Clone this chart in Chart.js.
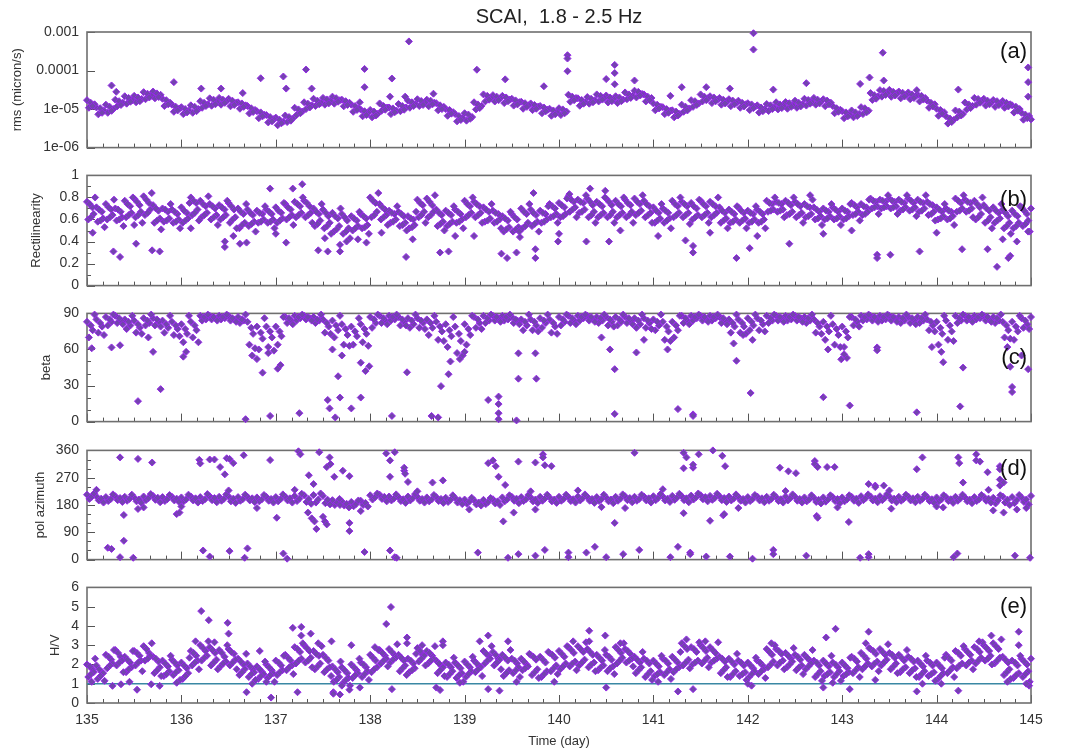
<!DOCTYPE html>
<html><head><meta charset="utf-8">
<script src="https://cdn.jsdelivr.net/npm/chart.js@4.4.1/dist/chart.umd.min.js"></script>
<style>
html,body{margin:0;padding:0;background:#fff;}
#wrap{position:relative;width:1074px;height:749px;overflow:hidden;background:#fff;}
canvas{position:absolute;left:0;}
</style></head><body><div id="wrap">
<canvas id="pa" width="1074" height="164" style="top:0px"></canvas>
<canvas id="pb" width="1074" height="143" style="top:159px"></canvas>
<canvas id="pc" width="1074" height="141" style="top:297px"></canvas>
<canvas id="pd" width="1074" height="142" style="top:434px"></canvas>
<canvas id="pe" width="1074" height="178" style="top:571px"></canvas>
</div>
<script>
// ---------------- DATA ----------------
const chartTitle = 'SCAI,  1.8 - 2.5 Hz';
const days = [135.0,135.1,135.2,135.3,135.4,135.5,135.6,135.7,135.8,135.9,
136.0,136.1,136.2,136.3,136.4,136.5,136.6,136.7,136.8,136.9,
137.0,137.1,137.2,137.3,137.4,137.5,137.6,137.7,137.8,137.9,
138.0,138.1,138.2,138.3,138.4,138.5,138.6,138.7,138.8,138.9,
139.0,139.1,139.2,139.3,139.4,139.5,139.6,139.7,139.8,139.9,
140.0,140.1,140.2,140.3,140.4,140.5,140.6,140.7,140.8,140.9,
141.0,141.1,141.2,141.3,141.4,141.5,141.6,141.7,141.8,141.9,
142.0,142.1,142.2,142.3,142.4,142.5,142.6,142.7,142.8,142.9,
143.0,143.1,143.2,143.3,143.4,143.5,143.6,143.7,143.8,143.9,
144.0,144.1,144.2,144.3,144.4,144.5,144.6,144.7,144.8,144.9,145.0];
const dayTicks = [135,136,137,138,139,140,141,142,143,144,145];
// each row of a band is its own series, sampled at days[i] + that row's time offset (day)
const rmsRowOffsets  = [0, 0.08, 0.02, 0.04, 0.06];
const recRowOffsets  = [0, 0.057, 0.071, 0.014, 0.029, 0.043, 0.086];
const betaRowOffsets = [0, 0.06, 0.02, 0.04, 0.08];
const azRowOffsets   = [0, 0.025, 0.05, 0.075];
const hvRowOffsets   = [0, 0.057, 0.071, 0.014, 0.029, 0.043, 0.086];

// (a) rms, in units of 1e-5 micron/s
const RMS_UNIT = 1e-5;
const rmsTickValues = [1e-6,1e-5,1e-4,1e-3];
const rmsTickText = ['1e-06','1e-05','0.0001','0.001'];
const rmsUpper = [1.7,1.1,1.3,1.75,2.15,2.2,2.75,2.85,1.85,1.3,
1.12,1.25,1.6,1.9,1.95,1.85,1.5,1.2,0.88,0.7,
0.6,0.68,1.08,1.5,1.85,1.95,2.1,1.75,1.3,0.97,
0.95,1.4,1.1,1.35,1.65,1.8,1.75,1.42,1.0,0.74,
0.78,1.5,2.4,2.3,2.2,1.85,1.55,1.4,1.2,1.02,
1.05,2.35,1.9,2.05,2.4,2.25,2.15,2.7,3.0,2.4,
1.4,1.12,0.93,1.3,1.7,2.4,2.15,1.95,1.8,1.65,
1.42,1.25,1.35,1.5,1.52,1.65,1.85,1.95,1.8,1.2,
0.88,0.92,1.12,2.6,3.1,3.15,2.85,2.7,2.35,1.65,
1.02,0.65,0.92,1.48,1.95,1.85,1.72,1.62,1.25,0.8,0.54];
const rmsMid = [1.33,0.91,1.0,1.46,1.70,1.83,2.21,2.34,1.46,1.04,
0.91,1.0,1.33,1.51,1.6,1.46,1.25,0.95,0.71,0.55,
0.47,0.57,0.86,1.25,1.46,1.6,1.7,1.46,1.04,0.80,
0.75,1.1,0.91,1.1,1.33,1.46,1.46,1.14,0.83,0.59,
0.62,1.21,1.94,1.94,1.76,1.51,1.25,1.16,0.96,0.83,
0.86,1.94,1.51,1.7,1.94,1.83,1.76,2.21,2.47,1.94,
1.14,0.91,0.75,1.04,1.4,1.94,1.76,1.6,1.46,1.33,
1.16,1.0,1.1,1.21,1.25,1.33,1.51,1.6,1.46,0.96,
0.71,0.75,0.91,2.13,2.57,2.57,2.34,2.21,1.94,1.33,
0.83,0.52,0.75,1.21,1.6,1.51,1.4,1.33,1.0,0.66,0.43];
const rmsLower = [1.08,0.73,0.8,1.18,1.38,1.5,1.8,1.9,1.2,0.85,
0.74,0.8,1.08,1.22,1.3,1.18,1.02,0.77,0.58,0.45,
0.38,0.46,0.7,1.0,1.2,1.3,1.38,1.18,0.85,0.65,
0.61,0.9,0.74,0.88,1.08,1.2,1.18,0.93,0.67,0.48,
0.5,0.98,1.58,1.57,1.43,1.23,1.02,0.94,0.78,0.67,
0.7,1.55,1.22,1.38,1.58,1.48,1.43,1.8,2.0,1.58,
0.93,0.74,0.61,0.85,1.14,1.58,1.43,1.3,1.19,1.08,
0.94,0.81,0.89,0.98,1.02,1.08,1.23,1.3,1.19,0.78,
0.58,0.61,0.74,1.73,2.1,2.08,1.9,1.8,1.58,1.08,
0.67,0.42,0.61,0.98,1.3,1.23,1.14,1.08,0.81,0.53,0.35];
const rmsRowB = [1.45,1.05,1.15,1.6,1.95,2.0,2.5,2.55,1.7,1.15,
1.0,1.15,1.45,1.75,1.75,1.65,1.4,1.05,0.82,0.62,
0.53,0.62,0.98,1.38,1.65,1.78,1.92,1.6,1.2,0.88,
0.86,1.2,1.04,1.2,1.5,1.62,1.65,1.25,0.95,0.66,
0.72,1.32,2.2,2.1,2.0,1.68,1.42,1.28,1.1,0.92,
0.98,2.1,1.72,1.85,2.2,2.0,2.0,2.4,2.8,2.1,
1.3,1.0,0.86,1.15,1.6,2.1,2.0,1.75,1.66,1.45,
1.32,1.1,1.25,1.32,1.42,1.45,1.72,1.75,1.66,1.05,
0.82,0.82,1.05,2.3,2.95,2.8,2.65,2.4,2.2,1.45,
0.95,0.57,0.86,1.32,1.82,1.65,1.6,1.45,1.15,0.72,0.49];
const rmsRowC = [1.2,0.8,0.9,1.28,1.55,1.6,2.0,2.05,1.33,0.92,
0.82,0.88,1.2,1.33,1.45,1.28,1.14,0.84,0.65,0.48,
0.43,0.5,0.78,1.1,1.33,1.4,1.55,1.28,0.95,0.7,
0.68,0.96,0.83,0.96,1.2,1.28,1.33,1.0,0.76,0.52,
0.56,1.06,1.75,1.7,1.6,1.32,1.14,1.02,0.88,0.73,
0.78,1.7,1.38,1.5,1.76,1.6,1.6,1.95,2.25,1.7,
1.04,0.8,0.68,0.92,1.28,1.7,1.6,1.4,1.33,1.17,
1.06,0.88,1.0,1.06,1.14,1.17,1.38,1.4,1.33,0.85,
0.65,0.66,0.83,1.86,2.33,2.25,2.12,1.94,1.76,1.17,
0.76,0.46,0.68,1.06,1.46,1.33,1.27,1.17,0.91,0.58,0.39];
const rmsOutliers = [[138.41,57],[137.32,10.6],[137.94,11],[139.13,10.5],[137.08,7],[136.84,6.3],[135.92,5],[138.23,6.2],[137.94,3.7],[139.43,5.9],[135.26,4.1],[135.31,2.8],[136.21,3.4],[136.42,3.4],[137.11,3.4],[137.38,3.4],[138.21,2.1],[138.67,2.5],[137.89,1.5],[138.37,2.1],[136.65,2.6],
[142.06,93],[142.06,35],[140.09,25],[140.09,20.5],[140.09,9.6],[143.43,29],[140.59,14],[140.59,8.6],[140.59,4.4],[140.5,6],[140.8,5.5],[144.97,12],[144.97,5],[144.97,2.1],[143.29,6.6],[143.19,4.5],[143.44,5.5],[142.62,4.7],[142.27,3.2],[139.84,3.9],[141.3,3.7],[141.18,2.2],[144.23,3.2],[143.79,3.1],[141.81,3.4],[141.56,3.7]];

// (b) Rectilinearity
const recRow1 = [.76,.71,.74,.70,.77,.79,.81,.73,.70,.69,
.71,.80,.77,.74,.73,.75,.70,.69,.68,.69,
.71,.74,.76,.77,.70,.69,.66,.65,.63,.65,
.80,.74,.68,.67,.63,.78,.79,.69,.68,.69,
.77,.76,.71,.68,.63,.65,.70,.69,.68,.74,
.75,.81,.78,.79,.76,.79,.77,.78,.79,.77,
.71,.70,.77,.76,.75,.77,.76,.71,.69,.71,
.68,.69,.77,.76,.77,.76,.74,.71,.70,.71,
.70,.75,.74,.79,.78,.79,.78,.79,.78,.76,
.71,.70,.79,.78,.77,.73,.71,.69,.68,.71,.70];
const recRow2 = [.71,.67,.69,.67,.72,.73,.75,.68,.67,.65,
.66,.75,.72,.70,.69,.69,.65,.64,.65,.65,
.66,.69,.72,.72,.65,.63,.61,.59,.59,.61,
.75,.69,.65,.63,.60,.73,.73,.64,.64,.65,
.72,.72,.67,.65,.59,.60,.65,.64,.65,.70,
.71,.76,.75,.73,.72,.73,.72,.73,.74,.72,
.66,.66,.72,.72,.70,.72,.72,.66,.65,.66,
.65,.65,.74,.74,.73,.72,.71,.67,.67,.67,
.67,.71,.71,.76,.76,.76,.75,.75,.75,.73,
.67,.67,.75,.75,.71,.68,.66,.63,.63,.65,.66];
const recRow3 = [.65,.61,.64,.62,.66,.67,.69,.61,.61,.60,
.61,.69,.66,.64,.64,.62,.57,.58,.60,.60,
.61,.64,.66,.66,.59,.57,.54,.52,.54,.55,
.67,.64,.60,.57,.55,.67,.67,.58,.58,.60,
.66,.66,.61,.60,.53,.53,.57,.58,.60,.65,
.65,.71,.69,.67,.66,.67,.66,.67,.68,.66,
.61,.61,.66,.66,.64,.66,.66,.61,.60,.61,
.60,.60,.69,.69,.67,.66,.65,.63,.63,.63,
.63,.67,.67,.72,.72,.72,.71,.71,.70,.67,
.63,.63,.70,.70,.65,.62,.61,.57,.57,.59,.61];
const recRow4 = [.60,.58,.60,.59,.62,.62,.64,.57,.58,.57,
.57,.64,.62,.60,.60,.57,.52,.54,.57,.57,
.57,.60,.62,.62,.54,.52,.49,.47,.50,.52,
.62,.60,.57,.54,.52,.62,.62,.54,.54,.57,
.62,.62,.58,.57,.49,.49,.52,.54,.57,.62,
.62,.67,.66,.62,.62,.62,.62,.62,.64,.62,
.57,.57,.62,.62,.60,.62,.62,.57,.57,.57,
.57,.57,.67,.67,.64,.62,.62,.60,.60,.60,
.60,.64,.64,.70,.70,.70,.68,.68,.67,.64,
.60,.60,.67,.67,.60,.57,.57,.52,.52,.54,.57];
const recRow5 = [.74,.69,.71,.69,.74,.76,.78,.70,.69,.67,
.68,.77,.74,.72,.71,.72,.67,.66,.66,.67,
.68,.71,.74,.75,.67,.66,.63,.62,.61,.63,
.77,.71,.66,.65,.61,.75,.76,.66,.66,.67,
.74,.74,.69,.66,.61,.62,.67,.66,.66,.72,
.73,.78,.76,.76,.74,.76,.74,.75,.76,.74,
.68,.68,.74,.74,.72,.74,.74,.68,.67,.68,
.66,.67,.75,.75,.75,.74,.72,.69,.68,.69,
.68,.73,.72,.77,.77,.77,.76,.77,.76,.74,
.69,.68,.77,.76,.74,.70,.68,.66,.65,.68,.68];
const recRow6 = [.62,.59,.62,.60,.64,.64,.66,.59,.59,.58,
.59,.66,.64,.62,.62,.60,.55,.56,.58,.58,
.59,.62,.64,.64,.56,.54,.51,.49,.52,.53,
.64,.62,.58,.55,.53,.64,.64,.56,.56,.58,
.64,.64,.59,.58,.51,.51,.54,.56,.58,.63,
.63,.69,.67,.64,.64,.64,.64,.64,.66,.64,
.59,.59,.64,.64,.62,.64,.64,.59,.58,.59,
.58,.58,.68,.68,.65,.64,.63,.61,.61,.61,
.61,.65,.65,.71,.71,.71,.69,.69,.68,.65,
.61,.61,.68,.68,.62,.59,.59,.54,.54,.56,.59];
const recRow7 = [.80,.53,.78,.54,.80,.57,.84,.51,.74,.52,
.75,.59,.81,.55,.77,.52,.74,.49,.72,.52,
.75,.55,.80,.57,.74,.47,.70,.43,.67,.47,
.84,.55,.72,.50,.67,.57,.82,.50,.72,.52,
.80,.57,.74,.52,.67,.44,.74,.49,.72,.57,
.79,.62,.82,.57,.80,.57,.80,.57,.82,.57,
.74,.52,.80,.56,.78,.57,.80,.52,.72,.52,
.72,.52,.80,.62,.80,.57,.78,.55,.74,.55,
.74,.59,.78,.65,.82,.65,.82,.63,.82,.59,
.74,.55,.82,.62,.80,.52,.74,.47,.72,.49,.74];
const recOutliers = [[135.28,0.31],[135.35,0.26],[135.52,0.38],[135.69,0.32],[135.77,0.31],[136.46,0.35],[136.46,0.40],[136.62,0.38],[136.69,0.39],[136.94,0.88],[137.18,0.88],[137.28,0.92],[137.11,0.39],[137.45,0.32],[137.55,0.31],[137.68,0.31],[137.68,0.37],[137.87,0.42],[137.96,0.39],[138.38,0.26],[138.74,0.30],[138.83,0.31],[138.9,0.45],[139.39,0.29],[139.45,0.25],[139.55,0.30],[139.73,0.84],[139.58,0.49],
[139.75,0.33],[139.75,0.25],[139.99,0.40],[140.29,0.40],[140.53,0.40],[141.34,0.41],[141.42,0.36],[141.42,0.30],[141.88,0.25],[142.02,0.34],[142.44,0.38],[143.37,0.28],[143.37,0.25],[143.51,0.28],[143.82,0.31],[144.27,0.33],[144.54,0.33],[144.64,0.17],[144.78,0.27],[144.76,0.25],[144.97,0.49],[140.33,0.88],[140.49,0.86],[140.11,0.83],[142.66,0.82],
[135.06,0.48],[135.5,0.55],[136.1,0.52],[136.55,0.45],[137.0,0.47],[137.52,0.43],[137.75,0.40],[138.12,0.48],[138.45,0.42],[139.1,0.45],[140.0,0.47],[140.65,0.50],[141.05,0.45],[141.6,0.48],[142.1,0.45],[142.8,0.47],[143.1,0.50],[144.0,0.48],[144.7,0.42],[144.85,0.40]];

// (c) beta
const betaRow1 = [83,85,87,88,85,84,86,86,84,83,
81,83,88,88,88,88,87,83,79,79,
79,87,88,88,87,85,84,81,79,81,
87,88,88,87,86,86,85,83,81,79,
81,87,88,88,88,87,85,85,86,85,
87,88,88,88,87,87,87,87,86,86,
85,83,83,88,88,88,88,87,85,85,
86,86,88,88,88,88,87,85,83,81,
79,87,88,88,88,88,87,87,87,85,
83,84,88,88,88,88,87,83,83,86,87];
const betaRow2 = [76,79,83,84,80,78,82,83,78,77,
73,76,85,86,86,85,84,73,69,70,
71,84,86,86,84,79,76,72,71,73,
82,84,85,83,81,82,78,75,71,67,
72,82,84,86,85,84,80,80,82,79,
83,84,86,85,84,83,83,84,81,82,
80,75,76,84,86,85,86,84,79,79,
80,81,84,86,85,86,84,79,75,72,
70,83,85,86,85,86,84,84,84,80,
73,75,84,86,86,85,84,76,75,81,83];
const betaRow3 = [70,74,80,82,77,74,80,80,74,72,
66,70,84,85,85,84,82,64,60,62,
64,82,84,85,82,74,70,64,64,66,
78,82,84,80,78,78,72,68,62,57,
64,78,82,84,84,82,76,76,78,74,
80,82,84,84,82,80,80,82,78,78,
76,68,70,82,84,84,84,82,74,74,
76,76,82,84,84,84,82,74,68,64,
62,80,84,84,84,84,82,82,82,76,
64,68,82,84,85,84,82,70,68,78,80];
const betaRow4 = [80,82,85,86,83,81,84,85,81,80,
77,80,87,87,87,86,85,78,74,75,
75,86,87,87,85,82,80,77,75,77,
85,86,87,85,84,84,82,79,76,73,
77,85,86,87,87,85,83,83,84,82,
85,86,87,87,86,85,85,86,84,84,
83,79,80,86,87,87,87,86,82,82,
83,84,86,87,87,87,86,82,79,77,
75,85,87,87,87,87,86,86,86,83,
78,80,86,87,87,87,86,80,79,84,85];
const betaRow5 = [89,72,89,81,88,73,89,79,88,71,
88,66,89,84,89,83,89,61,86,59,
87,81,89,84,89,73,88,63,86,63,
89,81,89,80,89,77,88,67,87,55,
88,77,89,83,89,81,89,75,89,73,
89,81,89,83,89,79,89,81,89,77,
89,67,88,81,89,83,89,81,89,73,
89,75,89,83,89,83,89,73,88,62,
87,79,89,83,89,83,89,81,89,75,
88,67,89,83,89,83,89,69,88,77,89];
const betaOutliers = [[135.54,17],[135.78,27],[135.26,61.7],[135.35,63.5],[135.7,58],[136.02,54],[136.68,2],[136.86,40.7],[136.94,4.7],[137.02,44],[137.05,47],[137.25,7],[137.55,18],[137.57,11],[137.63,3.5],[137.66,37.7],[137.68,20],[137.8,11],[137.9,20],[137.9,49],[137.95,42],[137.99,46],[138.23,4.7],[138.39,41],[138.65,4.7],[138.72,3.5],[138.75,29.5],[138.83,39.4],[139.25,18],[139.36,14.6],[139.36,20.8],[139.36,7],[139.36,2],[139.55,1],[139.57,35.7],[139.57,56.8],
[139.75,56.8],[139.76,35.7],[140.59,43.6],[140.59,6.4],[140.54,60],[140.82,57.5],[141.26,10.4],[141.42,6],[141.42,4.7],[141.88,50.6],[142.03,23.8],[142.8,20.3],[143.08,13.4],[143.37,61.7],[143.37,59.3],[143.79,7.7],[144.07,49.4],[144.25,12.6],[144.28,44.9],[144.8,28.8],[144.8,24.6],[144.97,43.6],[144.78,45.6],[142.99,51.8],[143.05,53],
[135.05,61],[135.65,70],[136.05,58],[136.75,55],[136.8,52],[136.92,57],[137.6,60],[137.7,55],[138.85,50],[138.95,52],[139.0,58],[140.45,70],[141.15,60],[141.85,65],[142.05,68],[142.85,60],[143.02,56],[143.95,62],[144.05,58],[144.75,62],[144.9,55],[140.9,68],[141.95,72]];

// (d) polarization azimuth
const azRow1 = [214,208,206,209,207,205,208,210,206,207,
205,208,206,209,207,208,206,207,205,207,
206,208,210,212,213,210,196,192,190,194,
212,214,208,206,208,207,205,206,204,203,
198,196,197,199,205,207,206,205,207,205,
207,206,208,207,206,205,207,209,207,208,
209,208,210,209,211,212,210,209,208,207,
206,208,207,206,208,207,205,204,205,206,
205,207,209,208,209,208,207,208,207,206,
205,206,207,205,206,207,204,208,206,205,210];
const azRow2 = [200,195,193,196,194,192,196,197,193,195,
192,195,193,196,194,192,194,195,192,194,
192,195,193,190,188,186,180,178,176,180,
198,200,195,193,195,194,192,193,190,188,
184,182,183,185,192,194,193,192,194,192,
194,193,195,194,193,192,194,196,194,195,
196,195,197,196,198,199,197,196,195,194,
193,195,194,193,195,194,192,190,191,193,
192,194,196,195,196,195,194,195,194,193,
192,193,194,192,193,194,185,188,186,190,196];
const azRow3 = [207,201,199,203,200,198,202,204,199,201,
198,202,199,203,200,201,199,202,198,200,
199,202,201,200,198,197,188,184,183,187,
205,207,201,199,202,200,198,200,197,196,
191,188,190,192,198,201,199,198,201,198,
200,199,202,200,199,198,201,203,200,202,
203,201,204,202,205,206,203,203,201,200,
199,202,200,199,202,200,198,197,198,200,
198,201,203,201,203,201,200,202,200,199,
198,199,201,198,199,201,195,197,196,198,203];
const azRow4 = [218,188,215,190,214,187,216,189,213,190,
214,188,216,189,215,187,214,190,213,188,
215,188,217,184,218,182,200,172,195,175,
218,192,215,187,216,188,213,187,212,183,
204,178,203,180,212,186,213,187,214,187,
214,188,215,187,214,186,215,189,214,188,
216,190,217,189,218,192,217,190,215,188,
213,189,214,188,215,188,212,185,212,186,
212,187,215,189,216,189,214,189,214,187,
212,187,214,186,213,188,212,180,213,182,216];
const azOutliers = [[135.35,337],[135.54,332],[135.69,320],[136.19,329],[136.2,317],[136.3,330],[136.35,330],[136.41,305],[136.48,334],[136.51,332],[136.46,281],[136.55,318],[136.66,344],[136.94,328],[137.24,357],[137.26,347],[137.35,278],[137.4,249],[137.46,354],[137.54,305],[137.57,337],[137.58,315],[137.62,273],[137.71,293],[137.78,275],[138.17,350],[138.21,327],[138.26,354],[138.21,273],[138.36,293],[138.36,303],[138.37,283],[138.4,256],[138.66,254],[138.77,261],[139.25,318],[139.3,327],[139.33,308],[139.36,273],[139.57,323],[139.43,246],
[135.22,39],[135.26,35],[135.39,62],[135.39,147],[135.35,8],[135.49,6],[135.54,167],[135.95,150],[135.98,155],[136.23,30],[136.3,10],[136.51,28],[136.67,6],[136.7,37],[137.01,138],[137.08,20],[137.12,3],[137.34,155],[137.38,136],[137.41,126],[137.43,101],[137.5,141],[137.52,126],[137.54,116],[137.68,180],[137.78,94],[137.78,121],[137.94,25],[138.21,30],[138.26,8],[138.28,6],[139.14,23],[139.46,6],[139.57,18],[139.41,126],[139.52,155],
[139.75,320],[139.83,347],[139.83,337],[139.85,311],[139.92,308],[140.8,352],[141.32,352],[141.35,337],[141.32,301],[141.42,303],[141.42,313],[141.48,347],[141.63,360],[141.73,342],[141.76,308],[142.34,303],[142.43,291],[142.51,285],[142.71,325],[142.71,315],[142.74,305],[142.84,305],[142.92,305],[143.28,249],[143.35,244],[143.35,239],[143.44,244],[143.79,298],[143.85,337],[144.23,337],[144.24,318],[144.28,254],[144.42,347],[144.42,327],[144.46,323],[144.54,288],[144.67,308],[144.67,298],[144.67,264],[144.67,244],[144.71,254],
[139.75,165],[140.45,173],[140.59,121],[141.32,153],[141.6,128],[141.74,146],[141.75,150],[142.73,144],[142.74,138],[143.07,124],[144.71,155],[144.07,172],[143.52,168],
[139.75,13],[139.85,32],[140.1,23],[140.1,8],[140.29,23],[140.38,42],[140.5,8],[140.68,18],[140.85,32],[141.18,8],[141.26,42],[141.39,23],[141.39,18],[141.56,10],[142.05,3],[142.27,32],[142.27,18],[142.62,13],[143.28,8],[143.28,18],[143.19,6],[144.18,8],[144.83,13],[144.99,6],[141.81,10],[144.22,20],
[135.1,230],[135.6,172],[136.0,175],[136.5,228],[136.8,170],[137.2,230],[137.9,160],[138.5,225],[139.05,165],[139.7,225],[140.2,228],[140.7,170],[141.1,232],[141.9,170],[142.4,226],[142.95,172],[143.5,228],[144.0,175],[144.55,230],[144.85,165],[144.95,170],[144.6,162]];

// (e) H/V
const hvRefLevel = 1;
const hvRow1 = [2.0,1.95,2.5,2.75,2.4,2.7,2.95,2.4,2.2,2.25,
2.1,2.7,3.0,2.9,2.75,2.8,2.3,2.05,1.9,2.0,
2.2,2.5,2.9,3.0,2.7,2.5,1.9,1.85,2.0,2.1,
2.5,2.75,2.8,2.5,2.3,2.85,2.7,2.2,2.1,2.1,
2.15,2.2,2.7,2.65,2.5,2.3,2.3,2.5,2.4,2.6,
2.7,2.9,2.95,2.8,2.5,2.5,2.9,2.8,2.4,2.3,
2.2,2.3,2.4,3.1,2.9,3.0,2.9,2.4,2.3,2.2,
2.1,2.2,2.8,2.8,2.6,2.5,2.5,2.2,2.2,2.1,
2.1,2.4,2.6,2.8,2.8,2.6,2.5,2.4,2.2,2.2,
2.1,2.5,2.7,2.8,2.9,3.0,3.1,2.4,2.2,2.3,2.3];
const hvRow2 = [1.75,1.6,2.25,2.4,2.1,2.45,2.6,2.15,1.9,1.95,
1.8,2.45,2.7,2.6,2.4,2.55,2.0,1.75,1.6,1.7,
1.95,2.2,2.65,2.7,2.45,2.2,1.6,1.55,1.7,1.85,
2.2,2.45,2.5,2.2,2.05,2.5,2.45,1.9,1.85,1.8,
1.85,1.9,2.45,2.3,2.2,2.05,2.0,2.25,2.1,2.35,
2.4,2.6,2.65,2.5,2.2,2.25,2.6,2.55,2.1,2.05,
1.9,2.05,2.1,2.8,2.65,2.7,2.6,2.15,2.0,1.95,
1.8,1.95,2.5,2.55,2.3,2.25,2.2,1.95,1.9,1.85,
1.8,2.15,2.3,2.55,2.5,2.35,2.2,2.15,1.9,1.95,
1.8,2.2,2.45,2.5,2.65,2.7,2.8,2.1,1.95,2.0,2.05];
const hvRow3 = [1.6,1.55,2.05,2.2,1.85,2.2,2.45,1.85,1.65,1.7,
1.55,2.2,2.45,2.25,2.15,2.25,1.75,1.6,1.5,1.55,
1.7,1.95,2.3,2.35,2.05,1.85,1.35,1.3,1.55,1.65,
1.85,2.3,2.35,1.95,1.8,2.45,2.3,1.85,1.65,1.55,
1.65,1.85,2.3,2.25,1.7,1.85,1.9,1.75,1.65,1.95,
2.05,2.15,2.25,2.1,1.95,1.9,2.35,2.3,1.85,1.65,
1.6,1.75,1.85,2.25,2.2,2.35,2.3,1.85,1.65,1.6,
1.65,1.75,2.15,2.2,2.15,1.95,2.05,1.65,1.6,1.65,
1.6,1.85,2.05,2.15,2.25,2.05,1.85,1.8,1.65,1.6,
1.55,1.85,2.05,2.2,2.35,2.45,2.35,1.75,1.55,1.65,1.85];
const hvRow4 = [1.35,1.25,1.8,1.95,1.6,1.95,2.2,1.55,1.4,1.45,
1.25,1.95,2.2,1.95,1.9,1.95,1.45,1.35,1.25,1.3,
1.45,1.7,2.05,2.1,1.75,1.6,1.1,1.05,1.3,1.35,
1.6,2.05,2.1,1.65,1.6,2.15,2.05,1.55,1.35,1.3,
1.35,1.6,2.05,1.95,1.4,1.55,1.7,1.45,1.35,1.65,
1.75,1.9,1.95,1.85,1.7,1.65,2.05,2.1,1.55,1.35,
1.4,1.45,1.6,1.95,2.0,2.05,2.1,1.55,1.35,1.4,
1.35,1.5,1.85,1.95,1.85,1.7,1.75,1.35,1.4,1.35,
1.4,1.55,1.75,1.9,1.95,1.75,1.6,1.55,1.35,1.4,
1.25,1.55,1.8,1.95,2.05,2.2,2.05,1.45,1.3,1.35,1.55];
const hvRow5 = [1.9,1.75,2.4,2.6,2.25,2.6,2.8,2.3,2.05,2.1,
1.95,2.6,2.85,2.75,2.6,2.65,2.15,1.9,1.75,1.85,
2.1,2.35,2.8,2.85,2.55,2.35,1.75,1.7,1.85,2.0,
2.35,2.6,2.65,2.35,2.2,2.7,2.6,2.05,2.0,1.95,
2.0,2.05,2.55,2.5,2.35,2.2,2.15,2.4,2.25,2.5,
2.55,2.75,2.8,2.65,2.35,2.4,2.75,2.7,2.25,2.2,
2.05,2.2,2.25,2.95,2.8,2.85,2.75,2.3,2.15,2.1,
1.95,2.1,2.65,2.7,2.45,2.4,2.35,2.1,2.05,2.0,
1.95,2.3,2.45,2.7,2.65,2.5,2.35,2.3,2.05,2.1,
1.95,2.35,2.6,2.65,2.8,2.85,2.95,2.25,2.1,2.15,2.2];
const hvRow6 = [1.5,1.4,1.95,2.1,1.75,2.1,2.3,1.7,1.5,1.6,
1.4,2.1,2.35,2.1,2.05,2.1,1.6,1.5,1.4,1.45,
1.6,1.85,2.2,2.2,1.9,1.75,1.2,1.2,1.45,1.5,
1.75,2.2,2.25,1.8,1.7,2.3,2.2,1.7,1.5,1.45,
1.5,1.75,2.2,2.1,1.55,1.7,1.8,1.6,1.5,1.8,
1.9,2.05,2.1,2.0,1.85,1.8,2.2,2.2,1.7,1.5,
1.5,1.6,1.75,2.1,2.1,2.2,2.2,1.7,1.5,1.5,
1.5,1.65,2.0,2.1,2.0,1.85,1.9,1.5,1.5,1.5,
1.5,1.7,1.9,2.05,2.1,1.9,1.75,1.7,1.5,1.5,
1.4,1.7,1.95,2.1,2.2,2.3,2.2,1.6,1.45,1.5,1.7];
const hvRow7 = [2.3,1.15,2.75,1.6,2.7,1.65,3.1,1.4,2.45,1.2,
2.35,1.75,3.2,1.75,3.0,1.75,2.55,1.2,2.15,1.1,
2.45,1.5,3.1,1.85,2.95,1.4,2.15,0.9,2.3,1.2,
2.75,1.9,3.05,1.45,2.55,1.95,2.95,1.4,2.35,1.1,
2.4,1.4,2.95,1.75,2.75,1.35,2.55,1.3,2.65,1.5,
2.95,1.7,3.15,1.65,2.75,1.5,3.1,1.9,2.65,1.2,
2.45,1.25,2.65,1.8,3.15,1.85,3.15,1.35,2.55,1.2,
2.35,1.3,3.0,1.75,2.85,1.5,2.75,1.15,2.45,1.15,
2.35,1.35,2.85,1.65,3.05,1.55,2.75,1.35,2.45,1.15,
2.35,1.35,2.95,1.75,3.15,2.0,3.3,1.25,2.45,1.1,2.5];
const hvOutliers = [[136.21,4.77],[136.29,4.3],[136.49,4.16],[136.5,3.6],[137.18,3.9],[137.27,3.95],[137.37,3.6],[137.27,3.5],[138.17,4.1],[138.22,4.98],[138.39,3.4],[138.39,3.1],[137.59,3.2],[137.8,3.0],[138.77,3.2],[138.77,3.0],[139.25,3.5],[139.16,3.2],[139.46,3.2],[136.83,2.7],[137.23,0.56],[136.95,0.28],[136.69,0.56],[137.61,0.56],[137.61,0.48],[137.68,0.44],[137.78,0.69],[137.89,0.8],[138.23,0.72],[138.7,0.8],[138.74,0.67],[139.25,0.72],[139.37,0.64],[135.27,0.89],[135.53,0.69],[135.68,0.97],[135.77,0.89],[135.36,0.97],
[140.32,3.75],[140.49,3.5],[140.32,3.2],[142.83,3.4],[142.93,3.85],[143.28,3.7],[144.87,3.7],[144.87,3.0],[144.58,3.5],[141.42,0.72],[141.26,0.6],[143.79,0.6],[143.08,0.72],[144.23,0.64],[142.04,0.9],[142.8,0.8],[140.5,0.8],[144.98,0.9],[143.35,1.2],
[135.05,1.1],[135.45,1.1],[135.95,1.05],[136.15,3.2],[136.35,3.15],[136.75,1.0],[136.9,1.1],[137.45,3.1],[137.7,0.9],[138.05,2.9],[138.55,3.0],[138.95,1.05],[139.55,1.1],[139.95,1.1],[140.15,3.2],[140.65,3.1],[141.05,1.1],[141.35,3.3],[141.55,3.2],[142.0,1.0],[142.25,3.1],[142.9,1.05],[143.25,3.1],[143.85,1.0],[144.05,1.0],[144.45,3.2],[144.75,1.1],[144.95,1.0]];

// ---------------- CHARTS ----------------
Chart.defaults.font.family = "'Liberation Sans', Arial, Helvetica, sans-serif";
Chart.defaults.color = '#333';
Chart.defaults.animation = false;

const MARKER = {pointStyle:'rectRot', pointRadius:3.5, pointHoverRadius:3.5,
  backgroundColor:'#7344ae', borderColor:'#9626ea', borderWidth:1, showLine:false, clip:false};

const lastDay = days[days.length - 1];
function rows(rowList, offsets, scale) {
  const out = [];
  rowList.forEach((r, k) => r.forEach((v, i) => {
    const t = days[i] + offsets[k];
    if (t <= lastDay + 1e-9) out.push({x: t, y: v * scale});
  }));
  return out;
}
function pairs(list, scale) { return list.map(p => ({x: p[0], y: p[1] * scale})); }

const minorDayStep = 1 / 6;
const framePlugin = {
  id: 'frame',
  beforeDatasetsDraw(chart, args, o) {
    const {ctx, chartArea: a, scales: {x, y}} = chart;
    ctx.save();
    ctx.strokeStyle = '#555'; ctx.lineWidth = 1;
    ctx.beginPath();
    for (let k = 0; k <= 60; k++) {
      const v = 135 + k * minorDayStep;
      const px = Math.round(x.getPixelForValue(v)) + 0.5;
      const len = (k % 6 === 0) ? 8 : 4;
      ctx.moveTo(px, a.bottom); ctx.lineTo(px, a.bottom - len);
    }
    y.ticks.forEach(t => {
      const py = Math.round(y.getPixelForValue(t.value)) + 0.5;
      ctx.moveTo(a.left, py); ctx.lineTo(a.left + 8, py);
    });
    if (o.yMinor) {
      for (let v = y.min; v <= y.max + 1e-9; v += o.yMinor) {
        const py = Math.round(y.getPixelForValue(v)) + 0.5;
        ctx.moveTo(a.left, py); ctx.lineTo(a.left + 4, py);
      }
    }
    ctx.stroke();
    ctx.strokeStyle = '#6f6f6f'; ctx.lineWidth = 1.6;
    ctx.strokeRect(a.left, a.top, a.right - a.left, a.bottom - a.top);
    ctx.restore();
  },
  afterDatasetsDraw(chart, args, o) {
    const {ctx, chartArea: a} = chart;
    ctx.save();
    ctx.font = "22px 'Liberation Sans', Arial, sans-serif";
    ctx.fillStyle = '#111'; ctx.textAlign = 'right'; ctx.textBaseline = 'middle';
    ctx.fillText(o.label, a.right - 4, a.top + o.labelDy);
    ctx.restore();
  }
};

function yAxis(o) {
  const ax = {
    type: o.type || 'linear', min: o.min, max: o.max, position: 'left',
    afterFit: s => { s.width = 87; },
    grid: {display: false, drawTicks: false}, border: {display: false},
    ticks: {padding: 8, font: {size: 14}, color: '#333', autoSkip: false,
            callback: v => String(Math.round(v * 10) / 10)},
    title: {display: true, text: o.title, font: {size: 13}, color: '#333', padding: {top: o.titleX - 8, bottom: 0}}
  };
  if (o.step) ax.ticks.stepSize = o.step;
  if (o.tickValues) {
    ax.afterBuildTicks = s => { s.ticks = o.tickValues.map(v => ({value: v})); };
    ax.ticks.callback = (v, i) => o.tickText[i];
  }
  return ax;
}

function makePanel(id, o) {
  const xAxis = o.bottom ? {
    type: 'linear', min: 135, max: 145, position: 'bottom',
    afterFit: s => { s.height = 46; },
    afterBuildTicks: s => { s.ticks = dayTicks.map(v => ({value: v})); },
    grid: {display: false, drawTicks: false}, border: {display: false},
    ticks: {padding: 9, font: {size: 14}, color: '#333', maxRotation: 0, autoSkip: false},
    title: {display: true, text: 'Time (day)', font: {size: 13}, color: '#333', padding: {top: 0, bottom: 0}}
  } : {type: 'linear', min: 135, max: 145, display: false};
  return new Chart(document.getElementById(id), {
    type: 'scatter',
    data: {datasets: o.datasets},
    options: {
      responsive: false, animation: false, devicePixelRatio: 1,
      layout: {padding: {left: 0, right: 43, top: o.padTop, bottom: o.bottom ? 0 : 10}},
      scales: {x: xAxis, y: yAxis(o.y)},
      plugins: {
        legend: {display: false}, tooltip: {enabled: false},
        title: o.title ? {display: true, text: o.title, fullSize: false, color: '#222',
          font: {size: 20, weight: 'normal'}, padding: {top: 5, bottom: 3}} : {display: false},
        frame: {label: o.label, labelDy: o.labelDy, yMinor: o.yMinor}
      }
    },
    plugins: [framePlugin]
  });
}

makePanel('pa', {
  title: chartTitle, padTop: 0, label: '(a)', labelDy: 20,
  y: {type: 'logarithmic', min: 1e-6, max: 1e-3, title: 'rms (micron/s)', titleX: 18,
      tickValues: rmsTickValues, tickText: rmsTickText},
  datasets: [Object.assign({data: rows([rmsUpper, rmsMid, rmsLower, rmsRowB, rmsRowC], rmsRowOffsets, RMS_UNIT).concat(pairs(rmsOutliers, RMS_UNIT))}, MARKER)]
});
makePanel('pb', {
  padTop: 10, label: '(b)', labelDy: 25, yMinor: 0.1,
  y: {min: 0, max: 1, step: 0.2, title: 'Rectilinearity', titleX: 37},
  datasets: [Object.assign({data: rows([recRow1, recRow2, recRow3, recRow4, recRow5, recRow6, recRow7], recRowOffsets, 1).concat(pairs(recOutliers, 1))}, MARKER)]
});
makePanel('pc', {
  padTop: 10, label: '(c)', labelDy: 45, yMinor: 10,
  y: {min: 0, max: 90, step: 30, title: 'beta', titleX: 47},
  datasets: [Object.assign({data: rows([betaRow1, betaRow2, betaRow3, betaRow4, betaRow5], betaRowOffsets, 1).concat(pairs(betaOutliers, 1))}, MARKER)]
});
makePanel('pd', {
  padTop: 10, label: '(d)', labelDy: 19, yMinor: 30,
  y: {min: 0, max: 360, step: 90, title: 'pol azimuth', titleX: 41},
  datasets: [Object.assign({data: rows([azRow1, azRow2, azRow3, azRow4], azRowOffsets, 1).concat(pairs(azOutliers, 1))}, MARKER)]
});
makePanel('pe', {
  padTop: 10, bottom: true, label: '(e)', labelDy: 20,
  y: {min: 0, max: 6, step: 1, title: 'H/V', titleX: 56},
  datasets: [
    {type: 'line', data: [{x: days[0], y: hvRefLevel}, {x: lastDay, y: hvRefLevel}],
     borderColor: '#3a88a4', borderWidth: 1.3, pointRadius: 0, order: 10},
    Object.assign({data: rows([hvRow1, hvRow2, hvRow3, hvRow4, hvRow5, hvRow6, hvRow7], hvRowOffsets, 1).concat(pairs(hvOutliers, 1)), order: 1}, MARKER)
  ]
});
</script>
</body></html>
